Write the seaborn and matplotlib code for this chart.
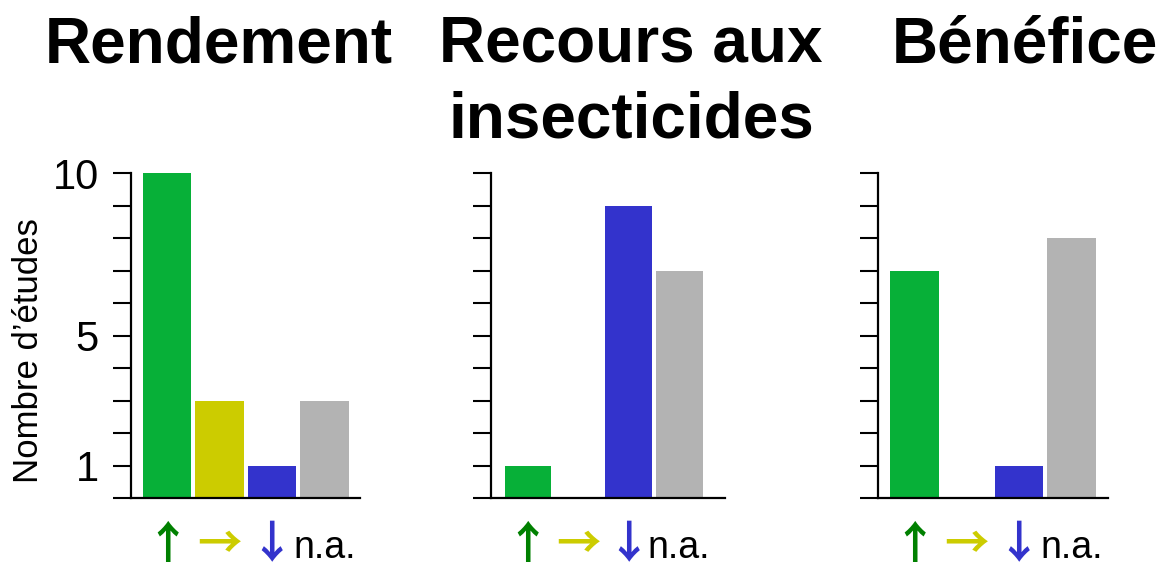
import matplotlib
matplotlib.use("Agg")
import matplotlib.pyplot as plt
import pandas as pd
import seaborn as sns

sns.set_theme(style="white")
plt.rcParams["font.family"] = ["Liberation Sans", "DejaVu Sans"]
plt.rcParams.update({"text.color": "black", "axes.labelcolor": "black",
                     "xtick.color": "black", "ytick.color": "black"})

# data
categories = ["up", "flat", "down", "na"]
tick_text = ["\u2191", "\u2192", "\u2193", "n.a."]
tick_colors = ["#008000", "#cccc00", "#3333cc", "black"]
bar_colors = ["#07b038", "#cccc00", "#3333cc", "#b3b3b3"]
panel_titles = ["Rendement", "Recours aux\ninsecticides", "Bénéfice"]
rendement = [10, 3, 1, 3]
insecticides = [1, 0, 9, 7]
benefice = [7, 0, 1, 8]
ytick_values = list(range(0, 11))
ytick_shown = {1: "1", 5: "5", 10: "10"}
ylabel = "Nombre d\u2019études"

fig = plt.figure(figsize=(11.62, 5.66), dpi=100)
rects = [(0.1127, 0.197), (0.4225, 0.2014), (0.7556, 0.198)]
xlims = [(-0.69, 3.68), (-0.735, 3.91), (-0.69, 3.70)]
title_x = [0.384, 0.598, 0.64]
title_base = [62, 137, 62]  # baseline of last title line, px from top
series = [rendement, insecticides, benefice]

for i, (vals, (left, width)) in enumerate(zip(series, rects)):
    ax = fig.add_axes([left, 0.1193, width, 0.575])
    df = pd.DataFrame({"cat": categories, "n": vals})
    sns.barplot(data=df, x="cat", y="n", hue="cat", palette=bar_colors,
                order=categories, hue_order=categories, width=0.93,
                saturation=1, legend=False, linewidth=0, ax=ax)
    ax.set_xlim(*xlims[i])
    ax.set_ylim(0, 10)
    sns.despine(ax=ax)
    for side in ("left", "bottom"):
        ax.spines[side].set_color("black")
        ax.spines[side].set_linewidth(1.6)
    ax.set_yticks(ytick_values)
    if i == 0:
        ax.set_yticklabels([ytick_shown.get(v, "") for v in ytick_values])
        ax.set_ylabel(ylabel, fontsize=25)
        ax.yaxis.set_label_coords(-0.376, 0.453)
    else:
        ax.set_yticklabels([])
        ax.set_ylabel("")
    ax.tick_params(axis="y", left=True, length=13, width=1.5, color="black",
                   labelsize=30, pad=10)
    ax.set_xlabel("")
    ax.set_xticks(range(len(categories)))
    ax.set_xticklabels(tick_text)
    ax.tick_params(axis="x", bottom=False, length=0, pad=42.8)
    for lab, col in zip(ax.get_xticklabels(), tick_colors):
        lab.set_color(col)
        lab.set_verticalalignment("baseline")
        if lab.get_text() == "n.a.":
            lab.set_fontfamily(["Liberation Sans"])
            lab.set_fontsize(27)
        else:
            lab.set_fontfamily(["Noto Sans CJK SC", "DejaVu Sans"])
            lab.set_fontsize(32)
            lab.set_fontweight("bold")
    ax.text(title_x[i], (498.5 - title_base[i]) / 325.5, panel_titles[i],
            transform=ax.transAxes, ha="center", va="baseline",
            fontsize=46, fontweight="bold", linespacing=1.32)

fig.savefig("out.png", dpi=100)
